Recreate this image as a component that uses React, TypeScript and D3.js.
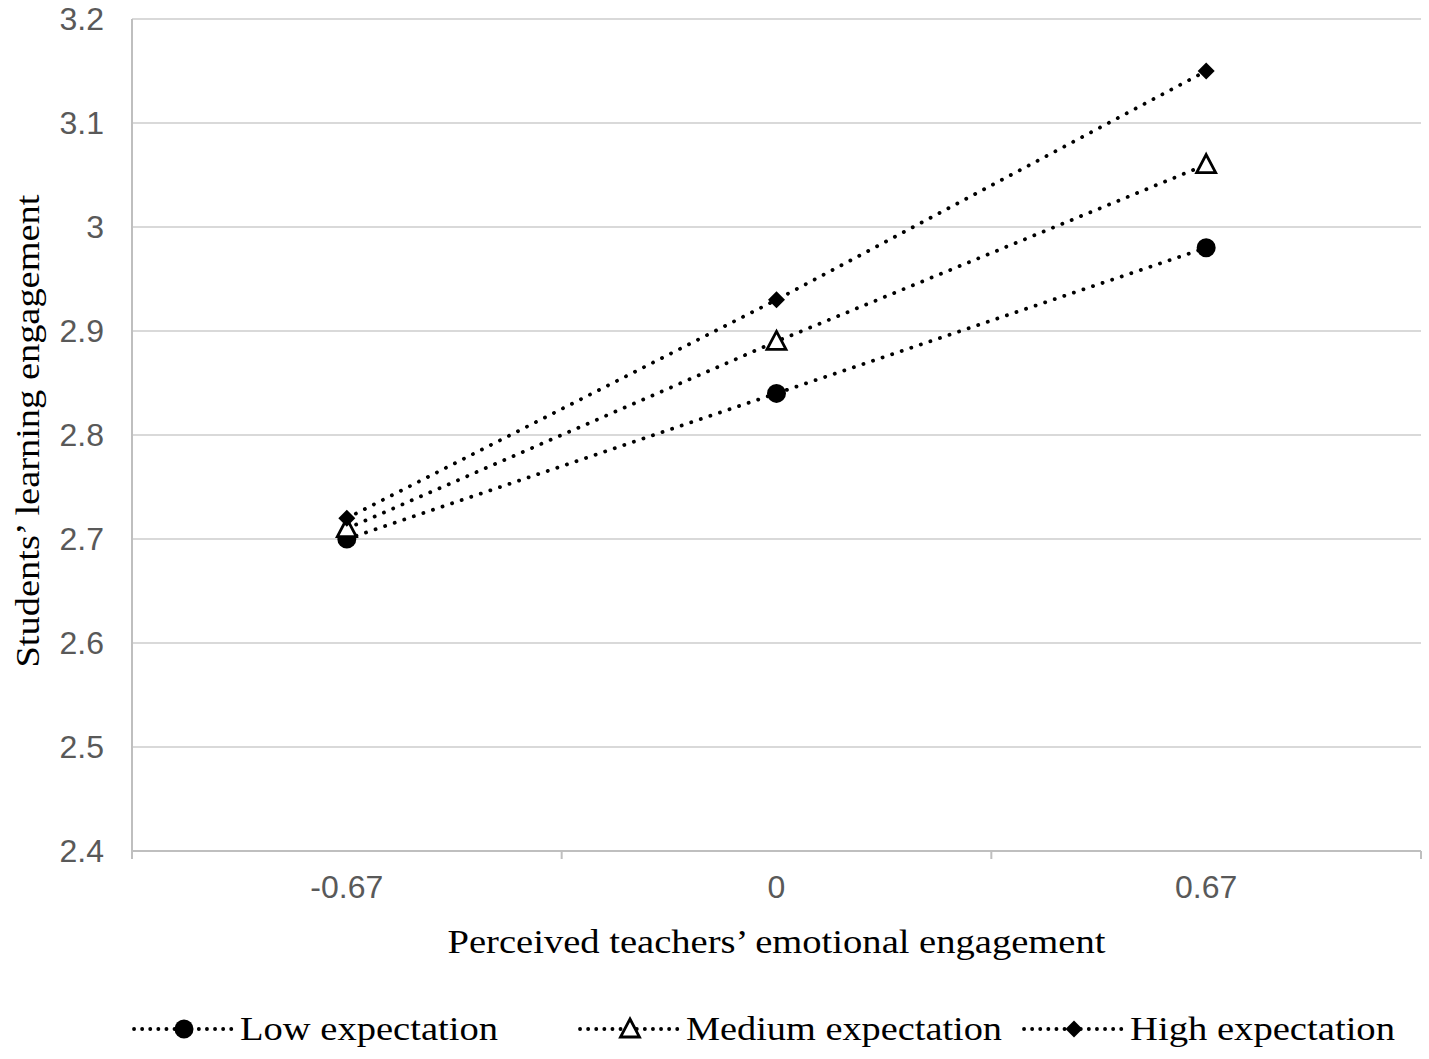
import React, { useEffect, useRef } from 'react';
import * as d3 from 'd3';

const categories = ['-0.67', '0', '0.67'];
const lowValues = [2.7, 2.84, 2.98];
const mediumValues = [2.71, 2.89, 3.06];
const highValues = [2.72, 2.93, 3.15];
const yTicks = [2.4, 2.5, 2.6, 2.7, 2.8, 2.9, 3.0, 3.1, 3.2];
const seriesNames = ['Low expectation', 'Medium expectation', 'High expectation'];

const W = 1429;
const H = 1059;

const App: React.FC = () => {
  const ref = useRef<SVGSVGElement | null>(null);

  useEffect(() => {
    if (ref.current) draw();
  }, []);

  const draw = () => {
    const svg = d3.select(ref.current);
    svg.selectAll('*').remove();

    const margin = { left: 132, right: 8, top: 19, bottom: 208 };
    const x0 = margin.left;
    const x1 = W - margin.right;
    const yBottom = H - margin.bottom;

    const band = d3.scaleBand<string>().domain(categories).range([x0, x1]);
    const x = d3.scalePoint<string>().domain(categories).range([x0, x1]).padding(0.5);
    const y = d3.scaleLinear().domain([2.4, 3.2]).range([yBottom, margin.top]);

    const grey = '#d9d9d9';
    const labelGrey = '#595959';

    // gridlines
    svg.append('g')
      .selectAll('line')
      .data(yTicks.slice(1))
      .enter().append('line')
      .attr('x1', x0)
      .attr('x2', x1)
      .attr('y1', d => y(d))
      .attr('y2', d => y(d))
      .attr('stroke', grey)
      .attr('stroke-width', 2);

    // y axis line
    svg.append('line')
      .attr('x1', x0).attr('x2', x0)
      .attr('y1', y(3.2)).attr('y2', yBottom)
      .attr('stroke', '#bfbfbf').attr('stroke-width', 2);

    // x axis
    const boundaries = categories.map(c => band(c) || 0).concat([x1]);
    svg.append('line')
      .attr('x1', x0).attr('x2', x1)
      .attr('y1', yBottom).attr('y2', yBottom)
      .attr('stroke', '#bfbfbf').attr('stroke-width', 2);
    svg.append('g')
      .selectAll('line')
      .data(boundaries)
      .enter().append('line')
      .attr('x1', d => d).attr('x2', d => d)
      .attr('y1', yBottom).attr('y2', yBottom + 8)
      .attr('stroke', '#bfbfbf').attr('stroke-width', 2);

    // y tick labels
    svg.append('g')
      .selectAll('text')
      .data(yTicks)
      .enter().append('text')
      .attr('x', 104)
      .attr('y', d => y(d))
      .attr('dy', '0.35em')
      .attr('text-anchor', 'end')
      .attr('font-family', 'Liberation Sans, Arial, sans-serif')
      .attr('font-size', 32)
      .attr('fill', labelGrey)
      .text(d => (d === 3 ? '3' : d3.format('.1f')(d)));

    // x tick labels
    svg.append('g')
      .selectAll('text')
      .data(categories)
      .enter().append('text')
      .attr('x', d => x(d) || 0)
      .attr('y', 898)
      .attr('text-anchor', 'middle')
      .attr('font-family', 'Liberation Sans, Arial, sans-serif')
      .attr('font-size', 32)
      .attr('fill', labelGrey)
      .text(d => d);

    // axis titles
    svg.append('text')
      .attr('x', (x0 + x1) / 2)
      .attr('y', 953)
      .attr('text-anchor', 'middle')
      .attr('font-family', 'Liberation Serif, Times New Roman, serif')
      .attr('font-size', 34)
      .attr('textLength', 658)
      .attr('lengthAdjust', 'spacingAndGlyphs')
      .text('Perceived teachers\u2019 emotional engagement');

    svg.append('text')
      .attr('transform', `translate(39,431) rotate(-90)`)
      .attr('text-anchor', 'middle')
      .attr('font-family', 'Liberation Serif, Times New Roman, serif')
      .attr('font-size', 34)
      .attr('textLength', 473)
      .attr('lengthAdjust', 'spacingAndGlyphs')
      .text('Students\u2019 learning engagement');

    const series = [
      { name: seriesNames[0], values: lowValues, marker: 'circle' },
      { name: seriesNames[1], values: mediumValues, marker: 'triangle' },
      { name: seriesNames[2], values: highValues, marker: 'diamond' },
    ];

    const drawMarker = (g: any, kind: string, cx: number, cy: number) => {
      if (kind === 'circle') {
        g.append('circle').attr('cx', cx).attr('cy', cy).attr('r', 9.5).attr('fill', '#000');
      } else if (kind === 'triangle') {
        g.append('path')
          .attr('d', `M${cx},${cy - 10} L${cx + 9.5},${cy + 8} L${cx - 9.5},${cy + 8} Z`)
          .attr('fill', '#fff').attr('stroke', '#000').attr('stroke-width', 2.8);
      } else {
        g.append('path')
          .attr('d', `M${cx},${cy - 8.5} L${cx + 8.5},${cy} L${cx},${cy + 8.5} L${cx - 8.5},${cy} Z`)
          .attr('fill', '#000');
      }
    };

    const line = d3.line<number>()
      .x((_, i) => x(categories[i]) || 0)
      .y(d => y(d));

    series.forEach(s => {
      const g = svg.append('g');
      g.append('path')
        .attr('d', line(s.values) || '')
        .attr('fill', 'none')
        .attr('stroke', '#000')
        .attr('stroke-width', 3.8)
        .attr('stroke-linecap', 'round')
        .attr('stroke-dasharray', '0.1 10');
      s.values.forEach((v, i) => drawMarker(g, s.marker, x(categories[i]) || 0, y(v)));
    });

    // legend
    const legendY = 1029;
    const legendX = [132, 578, 1022];
    const legendTextLen = [258, 316, 265];
    series.forEach((s, i) => {
      const g = svg.append('g').attr('transform', `translate(${legendX[i]},${legendY})`);
      g.append('line')
        .attr('x1', 2).attr('x2', 103)
        .attr('y1', 0).attr('y2', 0)
        .attr('stroke', '#000')
        .attr('stroke-width', 3.8)
        .attr('stroke-linecap', 'round')
        .attr('stroke-dasharray', '0.1 8');
      drawMarker(g, s.marker, 52, 0);
      g.append('text')
        .attr('x', 108)
        .attr('y', 11)
        .attr('font-family', 'Liberation Serif, Times New Roman, serif')
        .attr('font-size', 34)
        .attr('textLength', legendTextLen[i])
        .attr('lengthAdjust', 'spacingAndGlyphs')
        .text(s.name);
    });
  };

  return (
    <svg
      ref={ref}
      width={W}
      height={H}
      style={{ position: 'absolute', left: 0, top: 0, background: '#fff' }}
    />
  );
};

export default App;
